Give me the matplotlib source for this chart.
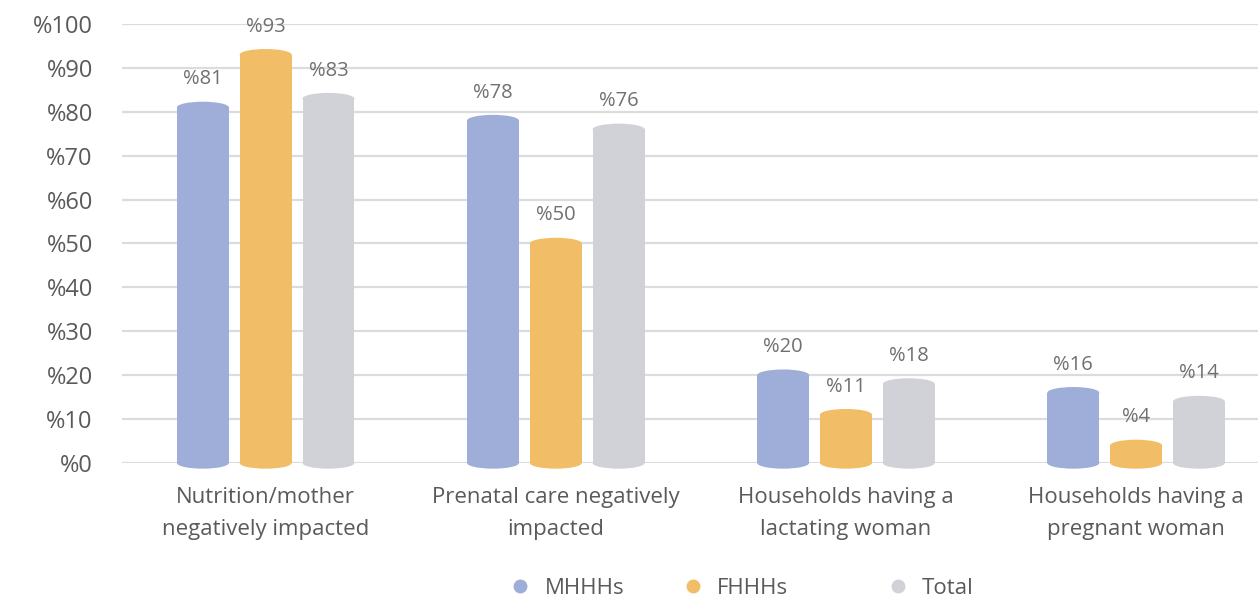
import matplotlib
matplotlib.use('Agg')
import numpy as np
from matplotlib import pyplot as plt
from matplotlib.patches import Ellipse
from matplotlib.lines import Line2D

# data
categories = ['Nutrition/mother\nnegatively impacted',
              'Prenatal care negatively\nimpacted',
              'Households having a\nlactating woman',
              'Households having a\npregnant woman']
series_names = ['MHHHs', 'FHHHs', 'Total']
mhhhs = [81, 78, 20, 16]
fhhhs = [93, 50, 11, 4]
total = [83, 76, 18, 14]
y_ticks = list(range(0, 101, 10))

colors = ['#9eaed9', '#f2bd67', '#d1d2d7']
text_color = '#5a5a5a'

plt.rcParams['font.family'] = ['Open Sans', 'DejaVu Sans']

fig = plt.figure(figsize=(12.58, 5.97), dpi=100)
ax = fig.add_axes([0.097, 0.2245, 0.903, 0.7353])

x = np.arange(len(categories))
offset = 0.2165
width = 0.179
cap_h = 2.6

for i, (vals, col) in enumerate(zip([mhhhs, fhhhs, total], colors)):
    xs = x + (i - 1) * offset
    ax.bar(xs, vals, width=width, color=col, zorder=3, linewidth=0)
    for xi, v in zip(xs, vals):
        ax.add_patch(Ellipse((xi, v), width, cap_h, color=col, zorder=3,
                             linewidth=0, clip_on=False))
        ax.add_patch(Ellipse((xi, 0), width, cap_h, color=col, zorder=3,
                             linewidth=0, clip_on=False))
        ax.annotate('%' + str(v), (xi, v), xytext=(0, 13), textcoords='offset points',
                    ha='center', va='bottom', fontsize=14.5, color='#707070')

ax.set_xlim(-0.495, 3.42)
ax.set_ylim(0, 100)
ax.set_yticks(y_ticks)
ax.set_yticklabels(['%' + str(t) for t in y_ticks])
ax.set_xticks(x)
ax.set_xticklabels(categories, fontsize=16, color=text_color, linespacing=1.7)
ax.tick_params(axis='y', length=0, pad=21, labelsize=17, labelcolor=text_color)
ax.tick_params(axis='x', length=0, pad=17)
ax.grid(axis='y', color='#dcdcdc', linewidth=1.6, zorder=0)
ax.set_axisbelow(True)
for s in ax.spines.values():
    s.set_visible(False)

# legend, one entry per box to keep the uneven spacing
legend_x = [0.396, 0.533, 0.696]
for name, col, lx in zip(series_names, colors, legend_x):
    h = Line2D([], [], marker='o', linestyle='', markersize=10, color=col,
               markeredgewidth=0)
    fig.legend([h], [name], loc='center left', bbox_to_anchor=(lx, 0.015),
               frameon=False, fontsize=16, labelcolor=text_color,
               handletextpad=0.1, borderaxespad=0, borderpad=0)

fig.savefig('out.png', dpi=100)
